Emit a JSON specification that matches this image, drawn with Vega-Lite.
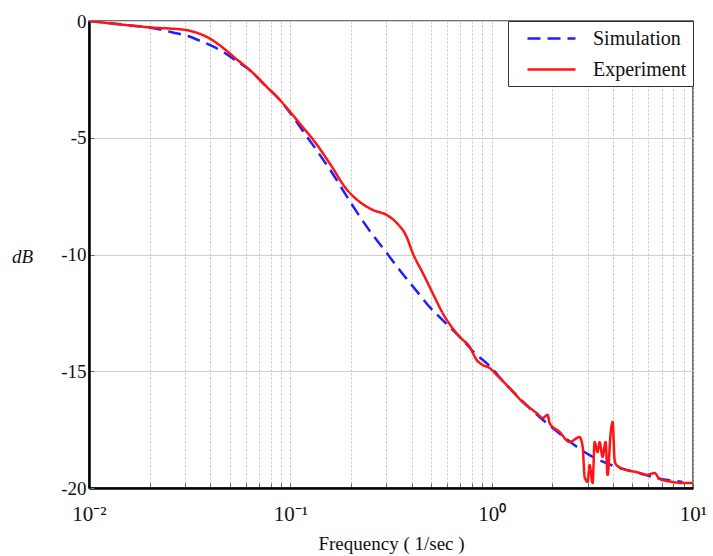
{
  "$schema": "https://vega.github.io/schema/vega-lite/v6.json",
  "width": 604,
  "height": 467,
  "autosize": {"type": "none"},
  "padding": {"left": 89, "top": 21, "right": 20, "bottom": 68},
  "background": "white",
  "config": {
    "font": "Liberation Serif",
    "view": {"stroke": "#444", "strokeWidth": 1.5}
  },
  "data": {
    "values": [
      {"series": "Simulation", "f": 0.01, "dB": 0},
      {"series": "Simulation", "f": 0.0139, "dB": -0.13},
      {"series": "Simulation", "f": 0.0206, "dB": -0.30},
      {"series": "Simulation", "f": 0.0267, "dB": -0.51},
      {"series": "Simulation", "f": 0.031, "dB": -0.64},
      {"series": "Simulation", "f": 0.0347, "dB": -0.81},
      {"series": "Simulation", "f": 0.0408, "dB": -1.07},
      {"series": "Simulation", "f": 0.0473, "dB": -1.37},
      {"series": "Simulation", "f": 0.0531, "dB": -1.67},
      {"series": "Simulation", "f": 0.0644, "dB": -2.18},
      {"series": "Simulation", "f": 0.0747, "dB": -2.74},
      {"series": "Simulation", "f": 0.0887, "dB": -3.38},
      {"series": "Simulation", "f": 0.1, "dB": -3.95},
      {"series": "Simulation", "f": 0.1153, "dB": -4.70},
      {"series": "Simulation", "f": 0.1355, "dB": -5.55},
      {"series": "Simulation", "f": 0.1626, "dB": -6.55},
      {"series": "Simulation", "f": 0.2019, "dB": -7.85},
      {"series": "Simulation", "f": 0.2425, "dB": -8.87},
      {"series": "Simulation", "f": 0.3013, "dB": -9.94},
      {"series": "Simulation", "f": 0.349, "dB": -10.66},
      {"series": "Simulation", "f": 0.4393, "dB": -11.73},
      {"series": "Simulation", "f": 0.492, "dB": -12.25},
      {"series": "Simulation", "f": 0.571, "dB": -12.81},
      {"series": "Simulation", "f": 0.694, "dB": -13.53},
      {"series": "Simulation", "f": 0.843, "dB": -14.30},
      {"series": "Simulation", "f": 0.944, "dB": -14.65},
      {"series": "Simulation", "f": 1.186, "dB": -15.59},
      {"series": "Simulation", "f": 1.73, "dB": -16.96},
      {"series": "Simulation", "f": 2.009, "dB": -17.43},
      {"series": "Simulation", "f": 3.065, "dB": -18.59},
      {"series": "Simulation", "f": 4.17, "dB": -19.10},
      {"series": "Simulation", "f": 5.42, "dB": -19.36},
      {"series": "Simulation", "f": 6.59, "dB": -19.57},
      {"series": "Simulation", "f": 8.87, "dB": -19.74},
      {"series": "Experiment", "f": 0.01, "dB": 0},
      {"series": "Experiment", "f": 0.0206, "dB": -0.28},
      {"series": "Experiment", "f": 0.0299, "dB": -0.38},
      {"series": "Experiment", "f": 0.0336, "dB": -0.48},
      {"series": "Experiment", "f": 0.0398, "dB": -0.75},
      {"series": "Experiment", "f": 0.0457, "dB": -1.11},
      {"series": "Experiment", "f": 0.0531, "dB": -1.58},
      {"series": "Experiment", "f": 0.0644, "dB": -2.18},
      {"series": "Experiment", "f": 0.0747, "dB": -2.74},
      {"series": "Experiment", "f": 0.0887, "dB": -3.38},
      {"series": "Experiment", "f": 0.1029, "dB": -4.03},
      {"series": "Experiment", "f": 0.1153, "dB": -4.55},
      {"series": "Experiment", "f": 0.129, "dB": -5.05},
      {"series": "Experiment", "f": 0.157, "dB": -6.10},
      {"series": "Experiment", "f": 0.19, "dB": -7.20},
      {"series": "Experiment", "f": 0.2213, "dB": -7.75},
      {"series": "Experiment", "f": 0.2567, "dB": -8.09},
      {"series": "Experiment", "f": 0.3013, "dB": -8.31},
      {"series": "Experiment", "f": 0.338, "dB": -8.65},
      {"series": "Experiment", "f": 0.3784, "dB": -9.25},
      {"series": "Experiment", "f": 0.4055, "dB": -9.94},
      {"series": "Experiment", "f": 0.4547, "dB": -10.79},
      {"series": "Experiment", "f": 0.509, "dB": -11.65},
      {"series": "Experiment", "f": 0.571, "dB": -12.51},
      {"series": "Experiment", "f": 0.694, "dB": -13.53},
      {"series": "Experiment", "f": 0.778, "dB": -13.96},
      {"series": "Experiment", "f": 0.843, "dB": -14.52},
      {"series": "Experiment", "f": 0.902, "dB": -14.73},
      {"series": "Experiment", "f": 0.977, "dB": -14.86},
      {"series": "Experiment", "f": 1.059, "dB": -15.16},
      {"series": "Experiment", "f": 1.228, "dB": -15.72},
      {"series": "Experiment", "f": 1.425, "dB": -16.32},
      {"series": "Experiment", "f": 1.671, "dB": -16.79},
      {"series": "Experiment", "f": 1.791, "dB": -17.00},
      {"series": "Experiment", "f": 1.897, "dB": -16.87},
      {"series": "Experiment", "f": 1.94, "dB": -17.22},
      {"series": "Experiment", "f": 2.175, "dB": -17.60},
      {"series": "Experiment", "f": 2.439, "dB": -18.03},
      {"series": "Experiment", "f": 2.733, "dB": -17.82},
      {"series": "Experiment", "f": 2.831, "dB": -18.24},
      {"series": "Experiment", "f": 2.896, "dB": -19.53},
      {"series": "Experiment", "f": 2.995, "dB": -19.74},
      {"series": "Experiment", "f": 3.065, "dB": -19.02},
      {"series": "Experiment", "f": 3.172, "dB": -19.79},
      {"series": "Experiment", "f": 3.245, "dB": -18.03},
      {"series": "Experiment", "f": 3.357, "dB": -18.46},
      {"series": "Experiment", "f": 3.436, "dB": -18.03},
      {"series": "Experiment", "f": 3.556, "dB": -18.67},
      {"series": "Experiment", "f": 3.68, "dB": -18.03},
      {"series": "Experiment", "f": 3.765, "dB": -19.44},
      {"series": "Experiment", "f": 3.9, "dB": -17.64},
      {"series": "Experiment", "f": 3.99, "dB": -17.17},
      {"series": "Experiment", "f": 4.08, "dB": -18.80},
      {"series": "Experiment", "f": 4.17, "dB": -19.02},
      {"series": "Experiment", "f": 4.68, "dB": -19.23},
      {"series": "Experiment", "f": 5.25, "dB": -19.32},
      {"series": "Experiment", "f": 5.88, "dB": -19.44},
      {"series": "Experiment", "f": 6.44, "dB": -19.36},
      {"series": "Experiment", "f": 6.82, "dB": -19.61},
      {"series": "Experiment", "f": 7.91, "dB": -19.74},
      {"series": "Experiment", "f": 8.87, "dB": -19.79},
      {"series": "Experiment", "f": 9.96, "dB": -19.79}
    ]
  },
  "mark": {"type": "line", "clip": true, "interpolate": "monotone"},
  "encoding": {
    "x": {
      "field": "f",
      "type": "quantitative",
      "scale": {"type": "log", "domain": [0.01, 10], "nice": false},
      "axis": {
        "title": "Frequency ( 1/sec )",
        "titleFontSize": 19,
        "titleFontWeight": "normal",
        "titleColor": "#111",
        "titlePadding": 10,
        "values": [0.01,0.02,0.03,0.04,0.05,0.06,0.07,0.08,0.09,0.1,0.2,0.3,0.4,0.5,0.6,0.7,0.8,0.9,1,2,3,4,5,6,7,8,9,10],
        "labelExpr": "datum.value == 0.01 ? '10⁻²' : datum.value == 0.1 ? '10⁻¹' : datum.value == 1 ? '10⁰' : datum.value == 10 ? '10¹' : ''",
        "labelFontSize": 21,
        "labelColor": "#111",
        "labelPadding": 20,
        "labelFlush": false,
        "labelOverlap": false,
        "domainColor": "#000",
        "domainWidth": 2.5,
        "tickColor": "#666",
        "tickSize": -5,
        "grid": true,
        "gridColor": "#c4c4c4",
        "gridDash": [2, 2],
        "gridWidth": 1
      }
    },
    "y": {
      "field": "dB",
      "type": "quantitative",
      "scale": {"domain": [-20, 0], "nice": false},
      "axis": {
        "title": "dB",
        "titleAngle": 0,
        "titleFontStyle": "italic",
        "titleFontWeight": "normal",
        "titleFontSize": 19,
        "titleColor": "#111",
        "titleX": -67,
        "titleY": 235,
        "titleAlign": "center",
        "titleBaseline": "middle",
        "values": [0, -5, -10, -15, -20],
        "labelExpr": "'' + datum.value",
        "labelFontSize": 19,
        "labelColor": "#111",
        "labelPadding": 8,
        "domainColor": "#000",
        "domainWidth": 2.5,
        "tickColor": "#666",
        "tickSize": -5,
        "grid": true,
        "gridColor": "#cfcfcf",
        "gridWidth": 1
      }
    },
    "color": {
      "field": "series",
      "type": "nominal",
      "scale": {"domain": ["Simulation", "Experiment"], "range": ["#1f1fff", "#ff1414"]},
      "legend": {
        "title": null,
        "orient": "top-right",
        "offset": 0,
        "padding": 6,
        "strokeColor": "#333",
        "fillColor": "white",
        "labelFontSize": 20,
        "labelColor": "#111",
        "labelOffset": 30,
        "symbolType": "M-2.4,0H2.4",
        "symbolSize": 400,
        "symbolOffset": 26,
        "symbolStrokeWidth": 2.5,
        "rowPadding": 9
      }
    },
    "strokeDash": {
      "field": "series",
      "type": "nominal",
      "scale": {"domain": ["Simulation", "Experiment"], "range": [[13, 7], [1, 0]]},
      "legend": {"title": null}
    },
    "strokeWidth": {"value": 2.5}
  }
}
